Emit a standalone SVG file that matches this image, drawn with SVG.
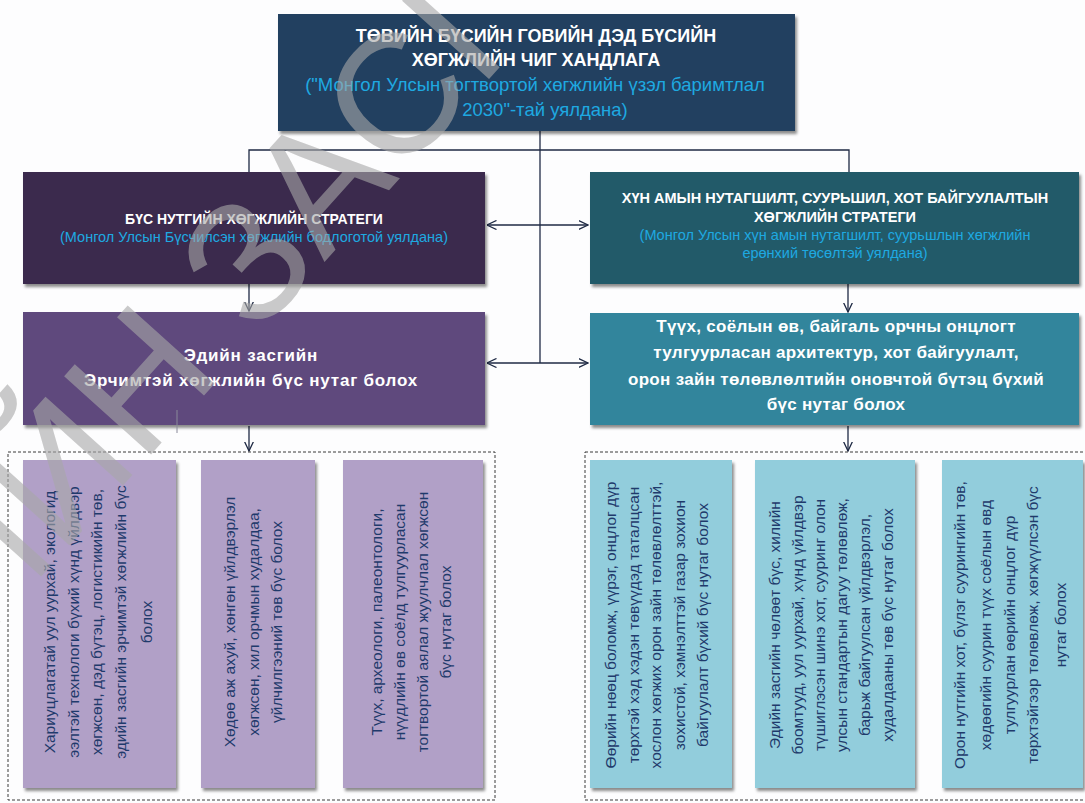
<svg xmlns="http://www.w3.org/2000/svg" width="1085" height="803" viewBox="0 0 1085 803">
<defs>
<filter id="sh" x="-5%" y="-5%" width="115%" height="120%">
<feDropShadow dx="2" dy="3" stdDeviation="1.8" flood-color="#000" flood-opacity="0.45"/>
</filter>
<marker id="arr" viewBox="0 0 10 10" refX="9.5" refY="5" markerWidth="10" markerHeight="10" markerUnits="userSpaceOnUse" orient="auto">
<path d="M0,0.5 L9.5,5 L0,9.5" fill="none" stroke="#1f2a44" stroke-width="1.3"/>
</marker>
<style>
.t{font-family:"Liberation Sans",Arial,sans-serif}
.w{fill:#fff;font-weight:bold}
.c{fill:#1ea9e1}
.lo{font-family:"Liberation Sans",Arial,sans-serif;font-size:15.5px;fill:#1f3a6b}
.con{stroke:#1f2a44;stroke-width:1.3;fill:none}
.dash{fill:none;stroke:#3a3a3a;stroke-width:1;stroke-dasharray:3 2}
</style>
</defs>
<rect width="1085" height="803" fill="#fdfdfe"/>

<g id="connectors">
<path class="con" d="M540,131 V363"/>
<path class="con" d="M249,172 V150 H849 V172"/>
<path class="con" d="M540,225 H487" marker-end="url(#arr)"/>
<path class="con" d="M540,225 H588" marker-end="url(#arr)"/>
<path class="con" d="M540,363 H487" marker-end="url(#arr)"/>
<path class="con" d="M540,363 H588" marker-end="url(#arr)"/>
<path class="con" d="M249,284 V311" marker-end="url(#arr)"/>
<path class="con" d="M249,426 V451" marker-end="url(#arr)"/>
<path class="con" d="M848,284 V312" marker-end="url(#arr)"/>
<path class="con" d="M848,426 V451" marker-end="url(#arr)"/>
</g>

<g id="top">
<rect x="278" y="14" width="517" height="117" fill="#243f60" filter="url(#sh)"/>
<text class="t w" x="536" y="42" font-size="18" text-anchor="middle">ТӨВИЙН БҮСИЙН ГОВИЙН ДЭД БҮСИЙН</text>
<text class="t w" x="536" y="66" font-size="18" text-anchor="middle">ХӨГЖЛИЙН ЧИГ ХАНДЛАГА</text>
<text class="t c" x="535" y="91" font-size="18.5" text-anchor="middle">("Монгол Улсын тогтвортой хөгжлийн үзэл баримтлал</text>
<text class="t c" x="545" y="116" font-size="18.5" text-anchor="middle">2030"-тай уялдана)</text>
</g>

<g id="strategy-left">
<rect x="23" y="172" width="462" height="112" fill="#3b2a4e" filter="url(#sh)"/>
<text class="t w" x="254" y="224" font-size="14" text-anchor="middle">БҮС НУТГИЙН ХӨГЖЛИЙН СТРАТЕГИ</text>
<text class="t c" x="254" y="242" font-size="14.5" text-anchor="middle">(Монгол Улсын Бүсчилсэн хөгжлийн бодлоготой уялдана)</text>
</g>

<g id="strategy-right">
<rect x="590" y="172" width="489" height="112" fill="#235a69" filter="url(#sh)"/>
<text class="t w" x="835" y="203" font-size="14.5" text-anchor="middle">ХҮН АМЫН НУТАГШИЛТ, СУУРЬШИЛ, ХОТ БАЙГУУЛАЛТЫН</text>
<text class="t w" x="835" y="222" font-size="14.5" text-anchor="middle">ХӨГЖЛИЙН СТРАТЕГИ</text>
<text class="t c" x="835" y="240" font-size="14.5" text-anchor="middle">(Монгол Улсын хүн амын нутагшилт, суурьшлын хөгжлийн</text>
<text class="t c" x="835" y="258" font-size="14.5" text-anchor="middle">ерөнхий төсөлтэй уялдана)</text>
</g>

<g id="goal-left">
<rect x="23" y="312" width="462" height="113" fill="#5e4a7d" filter="url(#sh)"/>
<text class="t w" x="251" y="361" font-size="17" letter-spacing="0.8" text-anchor="middle">Эдийн засгийн</text>
<text class="t w" x="251" y="386" font-size="17" letter-spacing="0.8" text-anchor="middle">Эрчимтэй хөгжлийн бүс нутаг болох</text>
<line x1="177" y1="410" x2="177" y2="433" stroke="#8a8a9a" stroke-width="1"/>
</g>

<g id="goal-right">
<rect x="590" y="313" width="489" height="112" fill="#31859c" filter="url(#sh)"/>
<text class="t w" x="836" y="332" font-size="17" letter-spacing="0.3" text-anchor="middle">Түүх, соёлын өв, байгаль орчны онцлогт</text>
<text class="t w" x="836" y="358" font-size="17" letter-spacing="0.3" text-anchor="middle">тулгуурласан  архитектур, хот байгуулалт,</text>
<text class="t w" x="836" y="385" font-size="17" letter-spacing="0.3" text-anchor="middle">орон зайн төлөвлөлтийн  оновчтой бүтэц бүхий</text>
<text class="t w" x="836" y="410" font-size="17" letter-spacing="0.3" text-anchor="middle">бүс нутаг болох</text>
</g>

<g id="group-left">
<rect class="dash" x="8" y="452" width="487" height="348"/>
</g>
<g id="group-right">
<rect class="dash" x="585" y="452" width="510" height="348"/>
</g>

<g id="box1">
<rect x="23" y="460" width="153" height="328" fill="#b1a0c7" filter="url(#sh)"/>
<text class="lo" transform="translate(55,622) rotate(-90)" text-anchor="middle">Хариуцлагатай уул уурхай, экологид</text>
<text class="lo" transform="translate(79,622) rotate(-90)" text-anchor="middle">ээлтэй технологи бүхий хүнд үйлдвэр</text>
<text class="lo" transform="translate(102,622) rotate(-90)" text-anchor="middle">хөгжсөн, дэд бүтэц, логистикийн төв,</text>
<text class="lo" transform="translate(126,622) rotate(-90)" text-anchor="middle">эдийн засгийн эрчимтэй хөгжлийн бүс</text>
<text class="lo" transform="translate(152,622) rotate(-90)" text-anchor="middle">болох</text>
</g>

<g id="box2">
<rect x="201" y="460" width="114" height="328" fill="#b1a0c7" filter="url(#sh)"/>
<text class="lo" transform="translate(235,622) rotate(-90)" text-anchor="middle">Хөдөө аж ахуй, хөнгөн үйлдвэрлэл</text>
<text class="lo" transform="translate(259,622) rotate(-90)" text-anchor="middle">хөгжсөн, хил орчмын худалдаа,</text>
<text class="lo" transform="translate(282,622) rotate(-90)" text-anchor="middle">үйлчилгээний төв бүс болох</text>
</g>

<g id="box3">
<rect x="343" y="460" width="140" height="328" fill="#b1a0c7" filter="url(#sh)"/>
<text class="lo" transform="translate(382,622) rotate(-90)" text-anchor="middle">Түүх, археологи, палеонтологи,</text>
<text class="lo" transform="translate(405,622) rotate(-90)" text-anchor="middle">нүүдлийн өв соёлд тулгуурласан</text>
<text class="lo" transform="translate(428,622) rotate(-90)" text-anchor="middle">тогтвортой аялал жуулчлал хөгжсөн</text>
<text class="lo" transform="translate(451,622) rotate(-90)" text-anchor="middle">бүс нутаг болох</text>
</g>

<g id="box4">
<rect x="590" y="460" width="142" height="328" fill="#92cddc" filter="url(#sh)"/>
<text class="lo" transform="translate(616,625) rotate(-90)" text-anchor="middle">Өөрийн нөөц боломж, үүрэг, онцлог дүр</text>
<text class="lo" transform="translate(639,625) rotate(-90)" text-anchor="middle">төрхтэй  хэд хэдэн төвүүдэд таталцсан</text>
<text class="lo" transform="translate(661,625) rotate(-90)" text-anchor="middle">хослон хөгжих орон зайн төлөвлөлттэй,</text>
<text class="lo" transform="translate(685,625) rotate(-90)" text-anchor="middle">зохистой, хэмнэлттэй газар зохион</text>
<text class="lo" transform="translate(708,625) rotate(-90)" text-anchor="middle">байгуулалт бүхий бүс нутаг болох</text>
</g>

<g id="box5">
<rect x="755" y="460" width="160" height="328" fill="#92cddc" filter="url(#sh)"/>
<text class="lo" transform="translate(780,625) rotate(-90)" text-anchor="middle">Эдийн засгийн чөлөөт бүс, хилийн</text>
<text class="lo" transform="translate(803,625) rotate(-90)" text-anchor="middle">боомтууд, уул уурхай, хүнд үйлдвэр</text>
<text class="lo" transform="translate(825,625) rotate(-90)" text-anchor="middle">түшиглэсэн шинэ хот, сууринг олон</text>
<text class="lo" transform="translate(847,625) rotate(-90)" text-anchor="middle">улсын стандартын дагуу төлөвлөж,</text>
<text class="lo" transform="translate(870,625) rotate(-90)" text-anchor="middle">барьж байгуулсан үйлдвэрлэл,</text>
<text class="lo" transform="translate(893,625) rotate(-90)" text-anchor="middle">худалдааны төв бүс нутаг болох</text>
</g>

<g id="box6">
<rect x="942" y="460" width="141" height="328" fill="#92cddc" filter="url(#sh)"/>
<text class="lo" transform="translate(965,625) rotate(-90)" text-anchor="middle">Орон нутгийн хот, бүлэг суурингийн төв,</text>
<text class="lo" transform="translate(991,625) rotate(-90)" text-anchor="middle">хөдөөгийн суурин түүх соёлын өвд</text>
<text class="lo" transform="translate(1015,625) rotate(-90)" text-anchor="middle">тулгуурлан өөрийн онцлог дүр</text>
<text class="lo" transform="translate(1038,625) rotate(-90)" text-anchor="middle">төрхтэйгээр төлөвлөж, хөгжүүлсэн бүс</text>
<text class="lo" transform="translate(1066,625) rotate(-90)" text-anchor="middle">нутаг болох</text>
</g>

<g id="watermark" opacity="0.6">
<text x="-415" y="0" font-family="Liberation Sans, Arial, sans-serif" font-size="170" fill="#a8a8a8" transform="translate(256,338) rotate(-48)">ИЙН ЗАСГ</text>
</g>
</svg>
